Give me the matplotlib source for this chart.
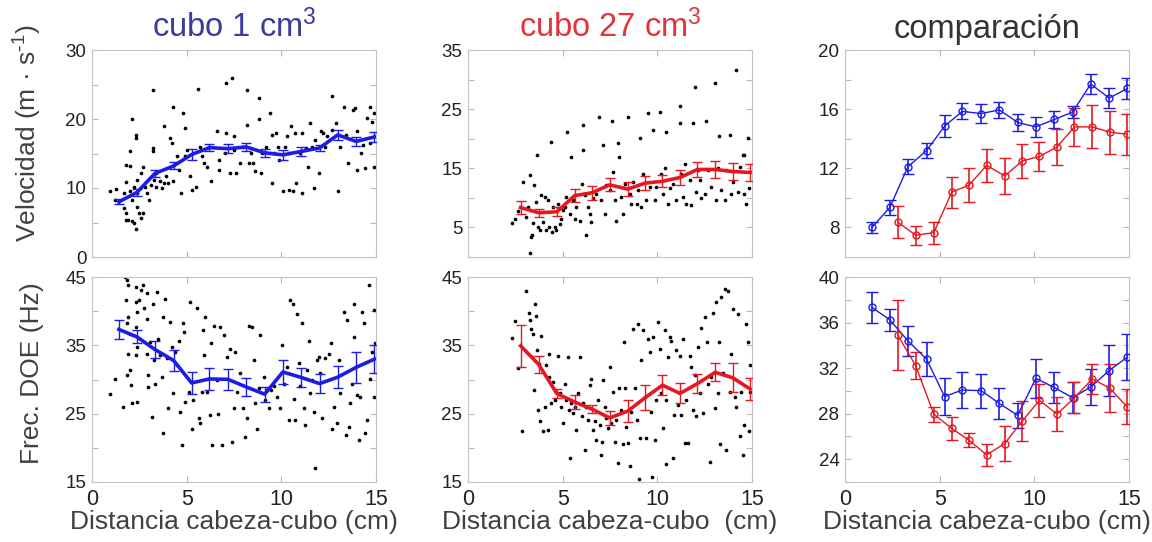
import matplotlib
matplotlib.use("Agg")
import matplotlib.pyplot as plt
import numpy as np

plt.rcParams["font.family"] = ["Liberation Sans", "DejaVu Sans"]
plt.rcParams["mathtext.default"] = "regular"

BLUE = "#1c1ce6"
RED = "#e8161e"
TXT = "#333333"

# binned means (cm, value, sem)
dist_1 = [1.42, 2.37, 3.32, 4.31, 5.26, 6.20, 7.19, 8.15, 9.12, 10.08, 11.05, 12.02, 12.98, 13.95, 14.92]
vel_1 = [8.0, 9.35, 12.1, 13.2, 14.85, 15.85, 15.7, 15.95, 15.1, 14.8, 15.3, 15.8, 17.7, 16.75, 17.4]
vel_1_err = [0.35, 0.5, 0.5, 0.5, 0.75, 0.55, 0.65, 0.55, 0.6, 0.7, 0.6, 0.4, 0.7, 0.65, 0.7]
frec_1 = [37.33, 36.24, 34.4, 32.78, 29.5, 30.08, 30.02, 28.9, 27.85, 31.1, 30.3, 29.4, 30.34, 31.78, 32.98]
frec_1_err = [1.35, 0.97, 1.3, 1.47, 1.6, 1.55, 1.5, 1.37, 1.1, 1.7, 1.4, 1.35, 1.6, 2.25, 2.0]

dist_27 = [2.78, 3.73, 4.69, 5.64, 6.55, 7.48, 8.44, 9.36, 10.27, 11.2, 12.12, 13.06, 13.98, 14.9]
vel_27 = [8.36, 7.48, 7.64, 10.39, 10.86, 12.2, 11.48, 12.5, 12.8, 13.45, 14.8, 14.8, 14.45, 14.3]
vel_27_err = [1.1, 0.65, 0.75, 1.05, 1.15, 1.1, 1.2, 1.15, 1.0, 1.2, 1.3, 1.45, 1.45, 1.4]
frec_27 = [34.92, 32.22, 27.96, 26.7, 25.67, 24.38, 25.38, 27.35, 29.17, 27.96, 29.4, 31.05, 30.25, 28.6]
frec_27_err = [3.1, 1.2, 0.65, 1.0, 0.63, 1.0, 1.57, 1.78, 1.47, 1.47, 1.35, 1.32, 2.1, 1.55]

# individual trials (distance cm, value)
vel1_pts = [
    (0.95, 9.6), (1.25, 9.9), (1.2, 8.3), (1.7, 9.3), (1.8, 10.8), (1.8, 13.3), (2.0, 13.2),
    (2.0, 15.3), (2.1, 20.0), (2.3, 17.7), (2.3, 17.2), (1.7, 7.1), (1.8, 6.4), (1.9, 5.4),
    (1.8, 5.4), (2.1, 5.2), (2.3, 4.0), (2.2, 4.9), (2.4, 7.3), (2.5, 6.4), (2.6, 5.6),
    (2.7, 6.4), (2.1, 8.3), (2.4, 9.3), (2.2, 10.2), (2.0, 9.5), (2.4, 11.2), (2.6, 12.2),
    (2.7, 13.1), (2.8, 10.2), (2.9, 9.3), (3.0, 8.3), (3.1, 10.5), (3.2, 24.2), (3.2, 15.8),
    (3.2, 15.3), (3.3, 11.2), (3.4, 12.2), (3.4, 10.2), (3.6, 11.0), (3.7, 10.0), (3.8, 19.0),
    (3.8, 10.7), (3.9, 11.7), (4.0, 10.7), (4.1, 17.2), (4.2, 16.5), (4.3, 21.8), (4.3, 11.0),
    (4.5, 14.6), (4.6, 12.6), (4.7, 9.3), (4.8, 20.9), (4.9, 18.7), (4.9, 14.6), (5.0, 15.5),
    (5.2, 11.7), (5.3, 9.7), (5.5, 10.2), (5.6, 24.3), (5.7, 16.0), (5.8, 14.6), (5.9, 13.6),
    (6.1, 13.1), (6.2, 16.0), (6.3, 11.0), (6.6, 18.3), (6.7, 14.1), (6.7, 12.6), (7.0, 15.1),
    (7.1, 25.2), (7.1, 17.9), (7.3, 12.2), (7.4, 26.0), (7.5, 17.5), (7.5, 15.5), (7.6, 12.2),
    (7.8, 13.6), (8.0, 16.0), (8.2, 24.2), (8.2, 19.2), (8.3, 13.6), (8.4, 15.1), (8.5, 13.6),
    (8.6, 12.4), (8.8, 23.0), (8.8, 20.0), (8.9, 12.2), (9.0, 15.1), (9.2, 16.0), (9.4, 20.8),
    (9.5, 17.7), (9.5, 10.7), (9.6, 15.1), (9.7, 17.9), (9.8, 16.0), (9.9, 14.1), (10.1, 9.5),
    (10.2, 16.0), (10.3, 17.5), (10.4, 9.7), (10.4, 15.1), (10.5, 19.0), (10.6, 9.5),
    (10.7, 17.9), (10.8, 10.7), (11.0, 15.1), (11.1, 17.9), (11.1, 9.3), (11.3, 15.8),
    (11.4, 13.1), (11.5, 19.4), (11.6, 16.0), (11.7, 10.0), (11.8, 17.0), (12.0, 12.2),
    (12.1, 18.3), (12.2, 17.9), (12.3, 16.0), (12.4, 17.5), (12.7, 23.3), (12.7, 18.4),
    (12.9, 19.4), (13.0, 9.5), (13.1, 16.0), (13.3, 21.8), (13.4, 17.7), (13.5, 13.6),
    (13.8, 21.3), (13.9, 21.6), (14.0, 18.2), (14.0, 12.6), (14.2, 15.1), (14.3, 16.3),
    (14.4, 12.9), (14.5, 20.1), (14.7, 21.7), (14.7, 16.5), (14.8, 19.6), (14.9, 13.1),
    (14.9, 20.8),
]

vel27_pts = [
    (2.34, 5.8), (2.46, 6.5), (2.64, 7.7), (2.9, 12.7), (3.05, 6.8), (3.17, 8.5), (3.26, 13.8),
    (3.35, 3.3), (3.4, 3.7), (3.3, 0.7), (3.43, 5.8), (3.5, 12.1), (3.6, 9.3), (3.65, 17.2),
    (3.7, 5.1), (3.8, 4.5), (3.87, 10.4), (3.96, 5.9), (4.05, 10.2), (4.14, 4.5), (4.2, 9.6),
    (4.3, 5.1), (4.4, 19.5), (4.45, 4.2), (4.5, 8.5), (4.6, 5.1), (4.66, 4.5), (4.75, 9.0),
    (4.84, 5.6), (4.9, 6.5), (5.0, 7.9), (5.1, 8.5), (5.2, 10.2), (5.25, 21.2), (5.37, 7.3),
    (5.46, 16.9), (5.55, 9.6), (5.63, 6.5), (5.72, 8.5), (5.9, 6.1), (6.0, 12.3), (6.07, 18.1),
    (6.1, 22.3), (6.16, 10.4), (6.25, 3.7), (6.34, 8.5), (6.43, 7.3), (6.5, 5.9), (6.6, 9.9),
    (6.78, 10.7), (6.92, 23.6), (7.04, 9.6), (7.13, 18.9), (7.22, 7.3), (7.3, 12.1),
    (7.48, 11.3), (7.62, 23.0), (7.66, 14.4), (7.75, 9.6), (7.83, 6.1), (7.9, 19.2),
    (8.0, 16.9), (8.1, 10.2), (8.2, 7.3), (8.27, 12.4), (8.45, 23.6), (8.54, 10.7), (8.63, 9.0),
    (8.7, 12.7), (8.9, 9.0), (9.0, 11.3), (9.07, 20.1), (9.15, 8.5), (9.24, 14.1), (9.4, 9.6),
    (9.5, 24.3), (9.6, 11.9), (9.77, 21.5), (9.86, 9.6), (9.95, 11.9), (10.12, 24.6),
    (10.2, 14.1), (10.3, 10.7), (10.39, 15.0), (10.44, 21.2), (10.56, 9.0), (10.65, 11.6),
    (10.83, 12.4), (11.0, 9.6), (11.18, 25.5), (11.2, 22.6), (11.27, 14.1), (11.36, 10.2),
    (11.44, 15.8), (11.53, 9.0), (11.7, 13.0), (11.8, 8.8), (11.88, 22.6), (12.0, 28.7),
    (12.06, 11.0), (12.15, 14.7), (12.24, 13.0), (12.32, 9.9), (12.5, 10.7), (12.55, 23.0),
    (12.68, 14.7), (12.85, 11.9), (13.03, 29.4), (13.1, 9.6), (13.2, 15.0), (13.26, 20.5),
    (13.38, 11.3), (13.56, 9.6), (13.64, 14.7), (13.82, 20.6), (13.9, 10.7), (14.0, 12.7),
    (14.17, 31.6), (14.26, 11.0), (14.35, 15.3), (14.52, 17.2), (14.6, 10.7), (14.7, 9.0),
    (14.79, 20.1), (14.84, 11.6), (14.6, 17.2),
]

frec1_pts = [
    (0.95, 27.9), (1.22, 30.1), (1.66, 26.0), (1.75, 45.0), (1.83, 44.5), (1.92, 43.8),
    (1.8, 41.6), (1.92, 39.2), (1.83, 38.2), (2.0, 36.7), (1.92, 33.8), (1.83, 30.6),
    (2.0, 31.4), (2.05, 29.2), (2.1, 26.5), (2.3, 43.5), (2.3, 41.3), (2.36, 39.9), (2.3, 37.7),
    (2.36, 34.8), (2.3, 33.6), (2.36, 26.7), (2.5, 41.6), (2.6, 43.1), (2.7, 43.8), (2.73, 40.4),
    (2.9, 42.6), (2.9, 38.9), (2.9, 33.8), (2.94, 30.6), (2.97, 28.9), (3.06, 35.5), (3.16, 24.5),
    (3.2, 41.1), (3.28, 32.8), (3.33, 29.4), (3.42, 42.8), (3.5, 36.0), (3.6, 33.6), (3.7, 30.4),
    (3.74, 22.1), (3.77, 39.2), (3.86, 41.8), (3.95, 33.1), (4.0, 25.8), (4.13, 38.4),
    (4.2, 34.8), (4.3, 28.0), (4.39, 34.0), (4.48, 32.1), (4.57, 35.7), (4.66, 25.3),
    (4.74, 20.4), (4.8, 38.2), (4.87, 37.0), (4.92, 26.7), (5.1, 28.2), (5.19, 41.3),
    (5.27, 22.8), (5.36, 27.0), (5.54, 40.4), (5.63, 24.3), (5.71, 23.6), (5.8, 28.2),
    (5.86, 37.2), (5.9, 33.6), (5.98, 39.2), (6.07, 28.2), (6.24, 24.8), (6.28, 35.3),
    (6.33, 20.4), (6.42, 37.9), (6.6, 30.0), (6.68, 25.0), (6.77, 37.7), (6.86, 20.4),
    (6.95, 36.5), (7.13, 33.3), (7.3, 34.5), (7.39, 20.9), (7.48, 25.8), (7.57, 34.0),
    (7.65, 28.2), (7.83, 30.9), (8.0, 25.8), (8.1, 21.6), (8.19, 24.3), (8.27, 37.9),
    (8.45, 37.7), (8.54, 32.8), (8.62, 26.5), (8.71, 22.8), (8.8, 28.7), (8.89, 36.5),
    (9.07, 30.4), (9.15, 27.0), (9.24, 28.5), (9.33, 25.8), (9.45, 28.5), (9.6, 29.0),
    (9.77, 27.5), (9.95, 25.8), (10.04, 35.0), (10.12, 29.4), (10.3, 31.8), (10.39, 24.1),
    (10.48, 41.6), (10.62, 41.1), (10.65, 27.2), (10.74, 24.1), (10.83, 39.6), (10.92, 32.4),
    (11.0, 29.0), (11.1, 38.2), (11.19, 25.8), (11.27, 23.3), (11.36, 31.4), (11.45, 35.7),
    (11.53, 28.0), (11.6, 30.0), (11.7, 25.3), (11.8, 17.0), (11.89, 32.8), (11.98, 33.3),
    (12.06, 30.9), (12.15, 24.3), (12.33, 33.1), (12.5, 33.8), (12.6, 35.3), (12.68, 22.8),
    (12.77, 26.0), (12.95, 23.6), (13.03, 32.8), (13.12, 28.0), (13.3, 39.9), (13.39, 21.9),
    (13.47, 38.7), (13.56, 23.1), (13.65, 26.5), (13.74, 29.4), (13.83, 36.2), (13.86, 41.1),
    (14.0, 27.7), (14.09, 21.1), (14.18, 27.5), (14.27, 39.9), (14.36, 38.2), (14.44, 22.1),
    (14.53, 24.1), (14.62, 43.8), (14.7, 30.1), (14.8, 34.0), (14.9, 40.1), (14.9, 27.5),
    (14.97, 35.3),
]

frec27_pts = [
    (2.34, 36.1), (2.46, 38.5), (2.64, 31.7), (2.87, 22.4), (3.05, 42.9), (3.2, 39.7),
    (3.3, 38.7), (3.35, 37.4), (3.4, 33.3), (3.43, 36.7), (3.5, 28.5), (3.52, 41.0),
    (3.6, 39.3), (3.65, 34.3), (3.7, 25.6), (3.75, 32.3), (3.78, 23.9), (3.87, 36.4),
    (3.96, 22.4), (4.05, 26.0), (4.14, 32.1), (4.2, 22.6), (4.27, 33.8), (4.3, 30.4),
    (4.4, 26.5), (4.5, 29.6), (4.58, 27.0), (4.66, 28.2), (4.75, 33.5), (4.84, 28.0),
    (4.93, 26.0), (5.0, 23.6), (5.1, 29.4), (5.2, 27.0), (5.28, 33.3), (5.33, 25.6),
    (5.4, 18.5), (5.46, 26.5), (5.55, 25.1), (5.63, 26.0), (5.72, 22.6), (5.8, 28.0),
    (5.9, 33.3), (6.0, 24.6), (6.07, 26.5), (6.16, 19.7), (6.25, 26.0), (6.34, 24.1),
    (6.43, 29.2), (6.5, 30.1), (6.6, 22.6), (6.7, 23.9), (6.78, 21.2), (6.87, 27.0),
    (6.95, 23.4), (7.04, 19.0), (7.1, 20.9), (7.13, 30.0), (7.22, 26.0), (7.3, 24.3),
    (7.4, 22.9), (7.48, 31.8), (7.57, 23.6), (7.66, 28.2), (7.75, 20.9), (7.83, 24.1),
    (7.92, 17.8), (8.0, 28.7), (8.1, 25.6), (8.2, 20.5), (8.22, 35.5), (8.27, 28.7),
    (8.36, 23.1), (8.45, 20.7), (8.54, 17.3), (8.63, 25.3), (8.7, 37.4), (8.8, 28.7),
    (8.9, 24.1), (9.0, 38.1), (9.03, 15.4), (9.07, 21.4), (9.15, 32.8), (9.24, 37.2),
    (9.33, 27.5), (9.42, 21.4), (9.5, 36.0), (9.6, 34.0), (9.68, 25.3), (9.73, 15.8),
    (9.77, 36.2), (9.86, 21.2), (9.95, 27.0), (10.03, 38.4), (10.12, 34.5), (10.2, 28.0),
    (10.3, 22.9), (10.39, 37.2), (10.44, 17.6), (10.48, 27.0), (10.56, 33.3), (10.65, 36.2),
    (10.74, 35.7), (10.83, 18.5), (10.9, 24.8), (11.0, 34.3), (11.1, 26.3), (11.18, 33.5),
    (11.27, 24.8), (11.36, 36.0), (11.44, 20.7), (11.53, 27.0), (11.6, 20.7), (11.7, 33.5),
    (11.8, 31.8), (11.88, 25.6), (11.97, 30.6), (12.06, 24.6), (12.15, 34.7), (12.24, 28.0),
    (12.32, 37.6), (12.4, 25.1), (12.5, 39.1), (12.6, 35.5), (12.68, 29.4), (12.76, 18.0),
    (12.85, 30.4), (12.94, 39.8), (13.03, 25.8), (13.1, 41.3), (13.2, 28.0), (13.26, 35.5),
    (13.33, 20.5), (13.38, 42.1), (13.47, 30.9), (13.56, 43.2), (13.64, 19.7), (13.73, 43.0),
    (13.82, 28.2), (13.9, 33.8), (14.0, 40.3), (14.08, 27.5), (14.17, 26.0), (14.26, 39.6),
    (14.35, 21.7), (14.44, 28.2), (14.52, 19.0), (14.6, 23.4), (14.7, 38.1), (14.79, 35.5),
    (14.84, 22.4), (14.88, 32.1), (14.9, 28.2),
]

XLABEL = "Distancia cabeza-cubo (cm)"
LABEL_FS = 19
TITLE_FS = 23.5


def style(ax, ylim, yticks, labeled, bottom):
    ax.set_xlim(0, 15)
    ax.set_ylim(*ylim)
    ax.set_xticks([0, 5, 10, 15])
    ax.set_yticks(yticks)
    ax.set_yticklabels([f"{t:g}" if t in labeled else "" for t in yticks])
    ax.tick_params(direction="in", top=True, right=True, length=4, width=0.8,
                   color="#b8b8b8", labelcolor="#222222")
    ax.tick_params(axis="y", labelsize=13.5, pad=4)
    ax.tick_params(axis="x", labelsize=15.5, pad=5)
    if not bottom:
        ax.set_xticklabels([])
    for s in ax.spines.values():
        s.set_color("#c4c4c4")
        s.set_linewidth(0.8)


def scatter(ax, pts):
    xy = np.array(pts)
    ax.scatter(xy[:, 0], xy[:, 1], s=7, c="black", linewidths=0, zorder=2)


def thick(ax, x, y, e, color):
    ax.errorbar(x, y, yerr=e, color=color, lw=2.6, elinewidth=1.0, capsize=3.5,
                capthick=1.0, zorder=3)


def thin(ax, x, y, e, color):
    ax.errorbar(x, y, yerr=e, color=color, lw=1.0, marker="o", ms=5, mfc="none",
                mew=1.0, elinewidth=1.2, capsize=4.2, capthick=1.2, zorder=3)


fig = plt.figure(figsize=(11.52, 5.42), dpi=100)
W = 1152.0
H = 542.0
lefts = [92, 468, 845]
width = 284
tops = [(50, 257), (277, 482)]
axs = [[fig.add_axes([l / W, 1 - b / H, width / W, (b - t) / H]) for l in lefts]
       for t, b in tops]

# top row: velocity
ax = axs[0][0]
scatter(ax, vel1_pts)
thick(ax, dist_1, vel_1, vel_1_err, BLUE)
style(ax, (0, 30), [0, 5, 10, 15, 20, 25, 30], [0, 10, 20, 30], False)
ax.set_title("cubo 1 cm$^3$", color="#3b3b9c", fontsize=TITLE_FS, pad=9)
ax.set_ylabel(r"Velocidad (m · s$^{\text{-}1}$)", fontsize=LABEL_FS, color="#404040")
ax.yaxis.set_label_coords(-0.17, 0.6)

ax = axs[0][1]
scatter(ax, vel27_pts)
thick(ax, dist_27, vel_27, vel_27_err, RED)
style(ax, (0, 35), [0, 5, 10, 15, 20, 25, 30, 35], [5, 15, 25, 35], False)
ax.set_title("cubo 27 cm$^3$", color="#e6333b", fontsize=TITLE_FS, pad=9)

ax = axs[0][2]
thin(ax, dist_1, vel_1, vel_1_err, BLUE)
thin(ax, dist_27, vel_27, vel_27_err, RED)
style(ax, (6, 20), [6, 8, 10, 12, 14, 16, 18, 20], [8, 12, 16, 20], False)
ax.set_title("comparación", color=TXT, fontsize=TITLE_FS, pad=9)

# bottom row: DOE frequency
ax = axs[1][0]
scatter(ax, frec1_pts)
thick(ax, dist_1, frec_1, frec_1_err, BLUE)
style(ax, (15, 45), [15, 20, 25, 30, 35, 40, 45], [15, 25, 35, 45], True)
ax.set_ylabel("Frec. DOE (Hz)", fontsize=LABEL_FS, color="#404040")
ax.yaxis.set_label_coords(-0.17, 0.53)
ax.set_xlabel(XLABEL, fontsize=LABEL_FS, color="#404040", labelpad=0)

ax = axs[1][1]
scatter(ax, frec27_pts)
thick(ax, dist_27, frec_27, frec_27_err, RED)
style(ax, (15, 45), [15, 20, 25, 30, 35, 40, 45], [15, 25, 35, 45], True)
ax.set_xlabel("Distancia cabeza-cubo  (cm)", fontsize=LABEL_FS, color="#404040", labelpad=0)

ax = axs[1][2]
thin(ax, dist_1, frec_1, frec_1_err, BLUE)
thin(ax, dist_27, frec_27, frec_27_err, RED)
style(ax, (22, 40), [22, 24, 26, 28, 30, 32, 34, 36, 38, 40], [24, 28, 32, 36, 40], True)
ax.set_xlabel(XLABEL, fontsize=LABEL_FS, color="#404040", labelpad=0)

fig.savefig("out.png", dpi=100, facecolor="white")
